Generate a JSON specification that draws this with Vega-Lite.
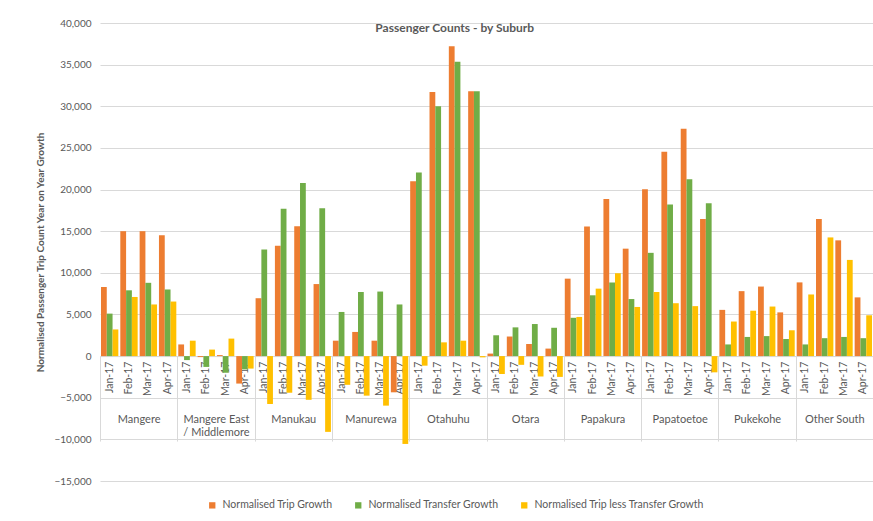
{
  "$schema": "https://vega.github.io/schema/vega-lite/v6.json",
  "width": 773,
  "height": 458,
  "padding": {"left": 35, "top": 18, "right": 0, "bottom": 0},
  "background": "white",
  "config": {"font": "Lato", "view": {"stroke": null}},
  "title": {"text": "Passenger Counts - by Suburb", "fontSize": 12, "fontWeight": "bold", "color": "#595959", "anchor": "middle", "frame": "bounds", "offset": -17},
  "data": {"values": [
    {"s": "Mangere", "m": "Jan-17", "k": "Mangere|Jan-17", "Normalised Trip Growth": 8300, "Normalised Transfer Growth": 5100, "Normalised Trip less Transfer Growth": 3200},
    {"s": "Mangere", "m": "Feb-17", "k": "Mangere|Feb-17", "Normalised Trip Growth": 15000, "Normalised Transfer Growth": 7900, "Normalised Trip less Transfer Growth": 7100},
    {"s": "Mangere", "m": "Mar-17", "k": "Mangere|Mar-17", "Normalised Trip Growth": 15000, "Normalised Transfer Growth": 8800, "Normalised Trip less Transfer Growth": 6200},
    {"s": "Mangere", "m": "Apr-17", "k": "Mangere|Apr-17", "Normalised Trip Growth": 14500, "Normalised Transfer Growth": 8000, "Normalised Trip less Transfer Growth": 6550},
    {"s": "Mangere East / Middlemore", "m": "Jan-17", "k": "Mangere East / Middlemore|Jan-17", "Normalised Trip Growth": 1400, "Normalised Transfer Growth": -480, "Normalised Trip less Transfer Growth": 1850},
    {"s": "Mangere East / Middlemore", "m": "Feb-17", "k": "Mangere East / Middlemore|Feb-17", "Normalised Trip Growth": -120, "Normalised Transfer Growth": -1300, "Normalised Trip less Transfer Growth": 780},
    {"s": "Mangere East / Middlemore", "m": "Mar-17", "k": "Mangere East / Middlemore|Mar-17", "Normalised Trip Growth": 120, "Normalised Transfer Growth": -2000, "Normalised Trip less Transfer Growth": 2100},
    {"s": "Mangere East / Middlemore", "m": "Apr-17", "k": "Mangere East / Middlemore|Apr-17", "Normalised Trip Growth": -3300, "Normalised Transfer Growth": -1600, "Normalised Trip less Transfer Growth": -1500},
    {"s": "Manukau", "m": "Jan-17", "k": "Manukau|Jan-17", "Normalised Trip Growth": 6950, "Normalised Transfer Growth": 12800, "Normalised Trip less Transfer Growth": -5750},
    {"s": "Manukau", "m": "Feb-17", "k": "Manukau|Feb-17", "Normalised Trip Growth": 13250, "Normalised Transfer Growth": 17700, "Normalised Trip less Transfer Growth": -4400},
    {"s": "Manukau", "m": "Mar-17", "k": "Manukau|Mar-17", "Normalised Trip Growth": 15600, "Normalised Transfer Growth": 20800, "Normalised Trip less Transfer Growth": -5250},
    {"s": "Manukau", "m": "Apr-17", "k": "Manukau|Apr-17", "Normalised Trip Growth": 8650, "Normalised Transfer Growth": 17750, "Normalised Trip less Transfer Growth": -9100},
    {"s": "Manurewa", "m": "Jan-17", "k": "Manurewa|Jan-17", "Normalised Trip Growth": 1850, "Normalised Transfer Growth": 5300, "Normalised Trip less Transfer Growth": -3450},
    {"s": "Manurewa", "m": "Feb-17", "k": "Manurewa|Feb-17", "Normalised Trip Growth": 2900, "Normalised Transfer Growth": 7700, "Normalised Trip less Transfer Growth": -4750},
    {"s": "Manurewa", "m": "Mar-17", "k": "Manurewa|Mar-17", "Normalised Trip Growth": 1850, "Normalised Transfer Growth": 7750, "Normalised Trip less Transfer Growth": -5950},
    {"s": "Manurewa", "m": "Apr-17", "k": "Manurewa|Apr-17", "Normalised Trip Growth": -4350, "Normalised Transfer Growth": 6200, "Normalised Trip less Transfer Growth": -10550},
    {"s": "Otahuhu", "m": "Jan-17", "k": "Otahuhu|Jan-17", "Normalised Trip Growth": 21000, "Normalised Transfer Growth": 22050, "Normalised Trip less Transfer Growth": -1150},
    {"s": "Otahuhu", "m": "Feb-17", "k": "Otahuhu|Feb-17", "Normalised Trip Growth": 31700, "Normalised Transfer Growth": 30000, "Normalised Trip less Transfer Growth": 1650},
    {"s": "Otahuhu", "m": "Mar-17", "k": "Otahuhu|Mar-17", "Normalised Trip Growth": 37200, "Normalised Transfer Growth": 35350, "Normalised Trip less Transfer Growth": 1850},
    {"s": "Otahuhu", "m": "Apr-17", "k": "Otahuhu|Apr-17", "Normalised Trip Growth": 31800, "Normalised Transfer Growth": 31800, "Normalised Trip less Transfer Growth": -150},
    {"s": "Otara", "m": "Jan-17", "k": "Otara|Jan-17", "Normalised Trip Growth": 300, "Normalised Transfer Growth": 2500, "Normalised Trip less Transfer Growth": -2150},
    {"s": "Otara", "m": "Feb-17", "k": "Otara|Feb-17", "Normalised Trip Growth": 2350, "Normalised Transfer Growth": 3450, "Normalised Trip less Transfer Growth": -1050},
    {"s": "Otara", "m": "Mar-17", "k": "Otara|Mar-17", "Normalised Trip Growth": 1450, "Normalised Transfer Growth": 3850, "Normalised Trip less Transfer Growth": -2450},
    {"s": "Otara", "m": "Apr-17", "k": "Otara|Apr-17", "Normalised Trip Growth": 900, "Normalised Transfer Growth": 3400, "Normalised Trip less Transfer Growth": -2500},
    {"s": "Papakura", "m": "Jan-17", "k": "Papakura|Jan-17", "Normalised Trip Growth": 9300, "Normalised Transfer Growth": 4600, "Normalised Trip less Transfer Growth": 4700},
    {"s": "Papakura", "m": "Feb-17", "k": "Papakura|Feb-17", "Normalised Trip Growth": 15550, "Normalised Transfer Growth": 7300, "Normalised Trip less Transfer Growth": 8100},
    {"s": "Papakura", "m": "Mar-17", "k": "Papakura|Mar-17", "Normalised Trip Growth": 18850, "Normalised Transfer Growth": 8850, "Normalised Trip less Transfer Growth": 9950},
    {"s": "Papakura", "m": "Apr-17", "k": "Papakura|Apr-17", "Normalised Trip Growth": 12900, "Normalised Transfer Growth": 6850, "Normalised Trip less Transfer Growth": 5900},
    {"s": "Papatoetoe", "m": "Jan-17", "k": "Papatoetoe|Jan-17", "Normalised Trip Growth": 20050, "Normalised Transfer Growth": 12400, "Normalised Trip less Transfer Growth": 7700},
    {"s": "Papatoetoe", "m": "Feb-17", "k": "Papatoetoe|Feb-17", "Normalised Trip Growth": 24550, "Normalised Transfer Growth": 18200, "Normalised Trip less Transfer Growth": 6350},
    {"s": "Papatoetoe", "m": "Mar-17", "k": "Papatoetoe|Mar-17", "Normalised Trip Growth": 27300, "Normalised Transfer Growth": 21250, "Normalised Trip less Transfer Growth": 6000},
    {"s": "Papatoetoe", "m": "Apr-17", "k": "Papatoetoe|Apr-17", "Normalised Trip Growth": 16450, "Normalised Transfer Growth": 18350, "Normalised Trip less Transfer Growth": -1950},
    {"s": "Pukekohe", "m": "Jan-17", "k": "Pukekohe|Jan-17", "Normalised Trip Growth": 5550, "Normalised Transfer Growth": 1400, "Normalised Trip less Transfer Growth": 4150},
    {"s": "Pukekohe", "m": "Feb-17", "k": "Pukekohe|Feb-17", "Normalised Trip Growth": 7800, "Normalised Transfer Growth": 2300, "Normalised Trip less Transfer Growth": 5450},
    {"s": "Pukekohe", "m": "Mar-17", "k": "Pukekohe|Mar-17", "Normalised Trip Growth": 8350, "Normalised Transfer Growth": 2400, "Normalised Trip less Transfer Growth": 5950},
    {"s": "Pukekohe", "m": "Apr-17", "k": "Pukekohe|Apr-17", "Normalised Trip Growth": 5250, "Normalised Transfer Growth": 2050, "Normalised Trip less Transfer Growth": 3100},
    {"s": "Other South", "m": "Jan-17", "k": "Other South|Jan-17", "Normalised Trip Growth": 8850, "Normalised Transfer Growth": 1400, "Normalised Trip less Transfer Growth": 7400},
    {"s": "Other South", "m": "Feb-17", "k": "Other South|Feb-17", "Normalised Trip Growth": 16450, "Normalised Transfer Growth": 2150, "Normalised Trip less Transfer Growth": 14250},
    {"s": "Other South", "m": "Mar-17", "k": "Other South|Mar-17", "Normalised Trip Growth": 13900, "Normalised Transfer Growth": 2300, "Normalised Trip less Transfer Growth": 11550},
    {"s": "Other South", "m": "Apr-17", "k": "Other South|Apr-17", "Normalised Trip Growth": 7050, "Normalised Transfer Growth": 2150, "Normalised Trip less Transfer Growth": 4900}
  ]},
  "transform": [
    {"fold": ["Normalised Trip Growth", "Normalised Transfer Growth", "Normalised Trip less Transfer Growth"], "as": ["series", "value"]}
  ],
  "layer": [
    {
      "mark": {"type": "bar"},
      "encoding": {
        "x": {
          "field": "k", "type": "nominal", "sort": null,
          "scale": {"paddingInner": 0, "paddingOuter": 0},
          "axis": {
            "title": null, "orient": "bottom",
            "offset": {"expr": "scale('y', 0) - height"},
            "labelExpr": "split(datum.label, '|')[1]",
            "labelAngle": -90, "ticks": false,
            "domainColor": "#d9d9d9", "labelColor": "#595959",
            "labelFontSize": 10.5, "labelPadding": 5, "zindex": 0
          }
        },
        "xOffset": {
          "field": "series", "type": "nominal",
          "sort": ["Normalised Trip Growth", "Normalised Transfer Growth", "Normalised Trip less Transfer Growth"],
          "scale": {"paddingInner": 0, "paddingOuter": 0.17}
        },
        "y": {
          "field": "value", "type": "quantitative",
          "scale": {"domain": [-15000, 40000], "nice": false, "zero": false},
          "axis": {
            "title": "Normalised Passenger Trip Count Year on Year Growth",
            "titleFontSize": 10, "titleFontWeight": "bold", "titleColor": "#595959", "titlePadding": 8,
            "labelColor": "#595959", "labelFontSize": 10, "labelPadding": 9,
            "ticks": false, "domain": false, "gridColor": "#d9d9d9",
            "values": [-15000, -10000, -5000, 0, 5000, 10000, 15000, 20000, 25000, 30000, 35000, 40000],
            "format": ",.0f"
          }
        },
        "color": {
          "field": "series", "type": "nominal",
          "scale": {"domain": ["Normalised Trip Growth", "Normalised Transfer Growth", "Normalised Trip less Transfer Growth"], "range": ["#ED7D31", "#70AD47", "#FFC000"]},
          "legend": {
            "orient": "none", "legendX": 107, "legendY": 477,
            "title": null, "direction": "horizontal",
            "symbolType": "square", "symbolSize": 40, "symbolStrokeWidth": 0,
            "labelFontSize": 10.5, "labelColor": "#595959", "labelOffset": 5, "labelLimit": 300, "columnPadding": 20
          }
        }
      }
    },
    {
      "mark": {"type": "bar", "opacity": 0},
      "encoding": {
        "x": {
          "field": "s", "type": "nominal", "sort": null,
          "scale": {"paddingInner": 0, "paddingOuter": 0},
          "axis": {
            "title": null, "orient": "bottom",
            "offset": {"expr": "scale('y', 0) - height"},
            "domain": false, "ticks": true, "tickBand": "extent", "tickSize": 85, "tickColor": "#d9d9d9",
            "labelAngle": 0, "labelFontSize": 11, "labelColor": "#595959", "labelPadding": -28,
            "labelExpr": "datum.label == 'Mangere East / Middlemore' ? ['Mangere East', '/ Middlemore'] : datum.label"
          }
        },
        "y": {"datum": 0}
      }
    }
  ],
  "resolve": {"scale": {"x": "independent"}, "axis": {"x": "independent"}}
}
